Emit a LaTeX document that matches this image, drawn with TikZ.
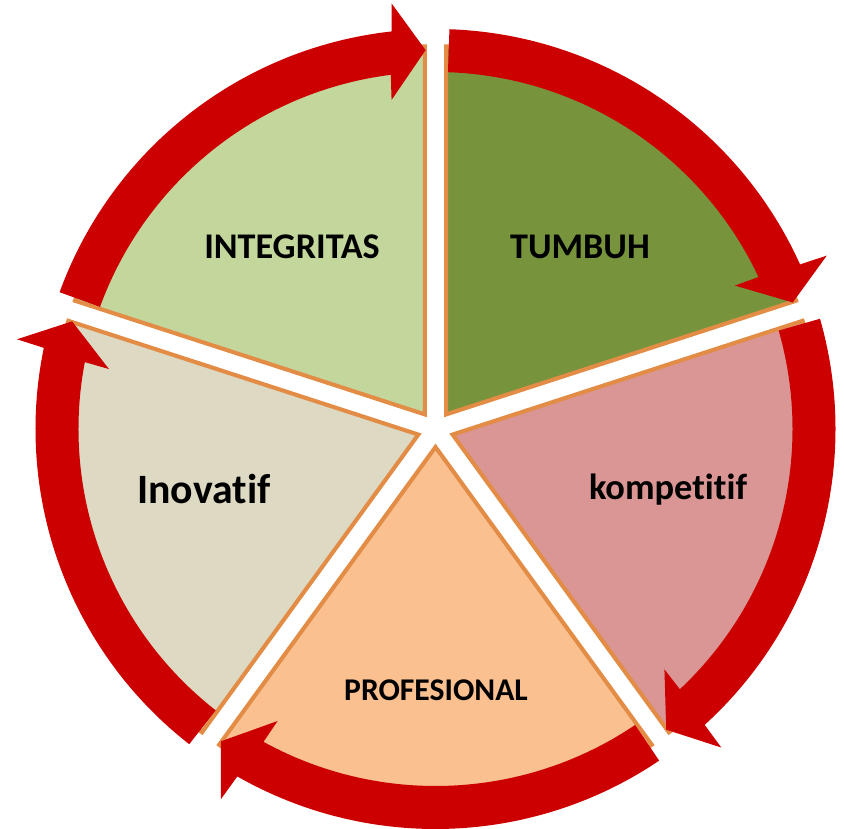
\documentclass[tikz,border=0pt]{standalone}
\usepackage{fontspec}
\setmainfont[Ligatures=NoCommon]{Carlito}
\usepackage{tikz}

\definecolor{ringred}{HTML}{CC0000}
\definecolor{wedgeborder}{HTML}{E38C46}
\definecolor{tumbuhgreen}{HTML}{77933C}
\definecolor{integritasgreen}{HTML}{C3D69B}
\definecolor{inovatifbeige}{HTML}{DDD9C3}
\definecolor{kompetitifpink}{HTML}{D99694}
\definecolor{profesionalpeach}{HTML}{FAC090}

\begin{document}
\begin{tikzpicture}[x=0.025cm, y=0.025cm,
		wedge_style/.style={draw=wedgeborder, line width=2.9pt, line join=miter},
		arrow_style/.style={fill=ringred},
		label_style/.style={font=\bfseries, text=black}]
		
		\useasboundingbox (-435.5,-400) rectangle (408.5,429);
		
		% pie wedges, each pushed out along its middle
		\filldraw[wedge_style, fill=tumbuhgreen, shift={(54:18)}] (0,0) -- (18:368) arc[start angle=18, end angle=90, radius=368] -- cycle;
		\filldraw[wedge_style, fill=kompetitifpink, shift={(-18:18)}] (0,0) -- (-54:368) arc[start angle=-54, end angle=18, radius=368] -- cycle;
		\filldraw[wedge_style, fill=profesionalpeach, shift={(-90:18)}] (0,0) -- (-126:368) arc[start angle=-126, end angle=-54, radius=368] -- cycle;
		\filldraw[wedge_style, fill=inovatifbeige, shift={(198:18)}] (0,0) -- (162:368) arc[start angle=162, end angle=234, radius=368] -- cycle;
		\filldraw[wedge_style, fill=integritasgreen, shift={(126:18)}] (0,0) -- (90:368) arc[start angle=90, end angle=162, radius=368] -- cycle;
		
		% red cycle arrows
		\fill[arrow_style] (160:400) arc[start angle=160, end angle=96.3, radius=400] -- (95.9:428) -- (91.5:379) -- (97.6:332) -- (97.2:357) arc[start angle=97.2, end angle=160, radius=357] -- cycle;
		\fill[arrow_style, rotate=-72] (160:400) arc[start angle=160, end angle=96.3, radius=400] -- (95.9:428) -- (91.5:379) -- (97.6:332) -- (97.2:357) arc[start angle=97.2, end angle=160, radius=357] -- cycle;
		\fill[arrow_style, rotate=-144] (160:400) arc[start angle=160, end angle=96.3, radius=400] -- (95.9:428) -- (91.5:379) -- (97.6:332) -- (97.2:357) arc[start angle=97.2, end angle=160, radius=357] -- cycle;
		\fill[arrow_style, rotate=-216] (160:400) arc[start angle=160, end angle=96.3, radius=400] -- (95.9:428) -- (91.5:379) -- (97.6:332) -- (97.2:357) arc[start angle=97.2, end angle=160, radius=357] -- cycle;
		\fill[arrow_style, rotate=-288] (160:400) arc[start angle=160, end angle=96.3, radius=400] -- (95.9:428) -- (91.5:379) -- (97.6:332) -- (97.2:357) arc[start angle=97.2, end angle=160, radius=357] -- cycle;
		
		\node[label_style, font=\bfseries\fontsize{25.7}{30}\selectfont] (integritas) at (-143.5,182) {INTEGRITAS};
		\node[label_style, font=\bfseries\fontsize{25.7}{30}\selectfont] (tumbuh) at (144.5,182) {TUMBUH};
		\node[label_style, font=\bfseries\fontsize{29.7}{34}\selectfont] (inovatif) at (-231.5,-60) {Inovatif};
		\node[label_style, font=\bfseries\fontsize{25.9}{30}\selectfont] (kompetitif) at (232.5,-61) {kompetitif};
		\node[label_style, font=\bfseries\fontsize{22.5}{26}\selectfont] (profesional) at (0.5,-261) {PROFESIONAL};
		
\end{tikzpicture}
\end{document}
